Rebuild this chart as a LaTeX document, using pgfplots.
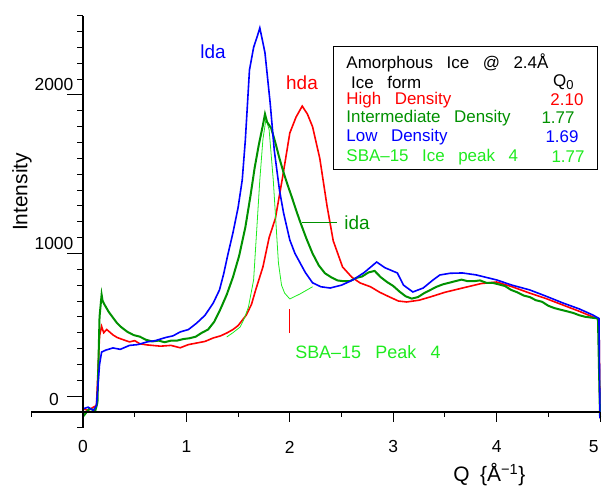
\documentclass[border=0pt]{standalone}
\usepackage{fontspec}
\setmainfont{Liberation Sans}
\usepackage{pgfplots}
\pgfplotsset{compat=1.18}
\definecolor{hdared}{RGB}{255,0,0}
\definecolor{idagreen}{RGB}{0,145,0}
\definecolor{ldablue}{RGB}{0,0,255}
\definecolor{sbagreen}{RGB}{30,235,30}
% font size with the wide word spacing of the original
\newcommand{\fs}[1]{\fontsize{#1}{#1}\selectfont\spaceskip=0.8em\relax}

\begin{document}
\begin{tikzpicture}
\begin{axis}[
    x=103.4bp, y=0.1585bp,
    xmin=-0.5, xmax=5, ymin=-100, ymax=2500,
    hide axis, clip=false,
]
% hda
\addplot[hdared, line width=1.6bp] coordinates {
    (0.00,20)(0.05,10)(0.10,30)(0.13,40)(0.16,480)(0.18,540)(0.20,500)(0.23,520)
    (0.29,486)(0.33,470)(0.37,460)(0.45,442)(0.50,450)(0.55,430)(0.62,423)(0.75,415)
    (0.85,420)(0.94,405)(1.02,425)(1.10,435)(1.18,445)(1.26,467)(1.33,480)(1.39,498)
    (1.45,520)(1.50,545)(1.58,612)(1.63,680)(1.67,770)(1.74,915)
    (1.80,1100)(1.86,1220)(1.93,1480)(2.00,1760)(2.06,1860)(2.12,1930)
    (2.17,1880)(2.22,1800)(2.29,1600)(2.36,1300)(2.42,1080)(2.51,915)
    (2.60,850)(2.68,814)(2.78,790)(2.87,755)(2.95,730)(3.05,700)(3.13,694)
    (3.25,705)(3.36,726)(3.50,755)(3.67,782)(3.85,810)(4.00,820)(4.15,790)
    (4.32,750)(4.48,715)(4.64,675)(4.80,635)(4.93,600)(4.99,585)(5.00,-20)
};
% SBA-15 peak 4
\addplot[sbagreen, line width=0.8bp] coordinates {
    (1.39,473)(1.45,500)(1.52,536)(1.56,590)(1.60,662)(1.65,833)(1.68,1148)
    (1.71,1464)(1.74,1720)(1.77,1850)(1.80,1780)(1.84,1464)(1.86,1255)
    (1.89,940)(1.92,800)(1.95,750)(2.00,713)(2.10,745)(2.22,790)
};
% ida
\addplot[idagreen, line width=2bp] coordinates {
    (0.00,-30)(0.06,20)(0.12,10)(0.14,60)(0.16,600)(0.18,740)(0.19,700)(0.21,675)
    (0.25,630)(0.29,595)(0.33,560)(0.37,535)(0.43,505)(0.49,485)(0.55,475)(0.61,455)
    (0.67,445)(0.73,450)(0.79,440)(0.85,450)(0.91,450)(0.97,460)(1.03,465)(1.09,475)
    (1.15,500)(1.21,520)(1.27,570)(1.33,650)(1.39,740)(1.45,850)(1.51,985)(1.57,1165)
    (1.62,1365)(1.66,1540)(1.70,1685)(1.74,1810)(1.76,1880)(1.78,1830)(1.82,1790)
    (1.86,1700)(1.90,1600)(1.94,1510)(1.98,1430)(2.02,1355)(2.06,1275)(2.10,1200)
    (2.16,1095)(2.22,1000)(2.28,925)(2.34,875)(2.40,850)(2.46,830)(2.52,825)(2.58,825)
    (2.64,845)(2.70,855)(2.76,880)(2.82,890)(2.88,850)(2.94,820)(3.00,795)(3.06,760)
    (3.12,730)(3.18,715)(3.24,725)(3.30,750)(3.36,770)(3.42,790)(3.48,805)(3.54,815)
    (3.60,825)(3.66,835)(3.72,825)(3.78,825)(3.84,830)(3.90,815)(3.96,815)(4.02,805)
    (4.08,795)(4.14,770)(4.20,755)(4.26,735)(4.32,725)(4.38,705)(4.44,695)(4.50,670)
    (4.56,655)(4.62,645)(4.68,635)(4.74,625)(4.80,610)(4.86,600)(4.92,595)(4.98,590)
    (5.00,-30)
};
% lda
\addplot[ldablue, line width=1.6bp] coordinates {
    (0.00,20)(0.05,30)(0.10,10)(0.13,40)(0.16,300)(0.18,378)(0.22,390)(0.29,404)
    (0.36,395)(0.45,420)(0.53,425)(0.62,442)(0.70,450)(0.80,470)(0.87,480)(0.94,505)
    (1.02,520)(1.10,561)(1.18,610)(1.26,688)(1.32,770)(1.36,870)(1.40,990)
    (1.45,1130)(1.50,1290)(1.54,1464)(1.57,1716)(1.61,2158)
    (1.65,2300)(1.69,2380)(1.71,2423)(1.74,2330)(1.76,2265)(1.81,1950)
    (1.85,1650)(1.90,1400)(1.94,1255)(2.00,1085)(2.05,1000)(2.10,940)
    (2.15,880)(2.22,815)(2.30,790)(2.39,782)(2.50,800)(2.61,833)(2.72,880)
    (2.84,946)(2.92,910)(3.04,877)(3.10,800)(3.19,757)(3.29,782)(3.38,830)
    (3.45,864)(3.55,875)(3.67,877)(3.80,865)(4.00,833)(4.15,800)(4.32,770)
    (4.48,730)(4.64,688)(4.80,650)(4.93,612)(4.99,590)(5.00,-40)
};

% axis lines
\draw[line width=1.2bp] (axis cs:-0.5,0) -- (axis cs:5,0);
\draw[line width=1.2bp] (axis cs:0,-100) -- (axis cs:0,2500);
% x ticks
\pgfplotsinvokeforeach{-0.5,0.5,1.5,2.5,3.5,4.5}{
    \draw[line width=1bp] (axis cs:#1,0) -- ([yshift=-5bp]axis cs:#1,0);
}
\pgfplotsinvokeforeach{1,2,3,4,5}{
    \draw[line width=1bp] (axis cs:#1,0) -- ([yshift=-10bp]axis cs:#1,0);
}
\pgfplotsinvokeforeach{0,1,2,3,4}{
    \node[font=\fs{17.5}] at (axis cs:#1,0) [yshift=-35bp] {#1};
}
\node[font=\fs{17.5}, anchor=east] at (axis cs:5.0193,0) [yshift=-35bp] {5};
% y ticks
\pgfplotsinvokeforeach{-100,200,300,400,500,600,700,800,900,1100,1200,1300,
    1400,1500,1600,1700,1800,1900,2100,2200,2300,2400,2500}{
    \draw[line width=1bp] (axis cs:0,#1) -- ([xshift=-6bp]axis cs:0,#1);
}
\pgfplotsinvokeforeach{100,1000,2000}{
    \draw[line width=1bp] (axis cs:0,#1) -- ([xshift=-16bp]axis cs:0,#1);
}
\node[font=\fs{17.5}] at (axis cs:0,2000) [xshift=-29bp, yshift=10bp] {2000};
\node[font=\fs{17.5}] at (axis cs:0,1000) [xshift=-29bp, yshift=10bp] {1000};
\node[font=\fs{17.5}] at (axis cs:0,0) [xshift=-29bp, yshift=12bp] {0};

% axis labels
\node[font=\fs{21}, rotate=90] at (axis cs:-0.59,1388) {Intensity};
\node[font=\fs{21}] at (axis cs:3.93,-397) {Q\hspace{0.5em}\{Å\textsuperscript{−1}\}};

% annotations
\node[font=\fs{19}, text=ldablue] at (axis cs:1.257,2271) {lda};
\node[font=\fs{19}, text=hdared] at (axis cs:2.118,2076) {hda};
\node[font=\fs{19}, text=idagreen] at (axis cs:2.65,1192) {ida};
\draw[idagreen, line width=0.8bp] (axis cs:2.118,1199) -- (axis cs:2.456,1199);
\draw[hdared, line width=0.8bp] (axis cs:2.0,498) -- (axis cs:2.0,650);
\node[font=\fs{18}, text=sbagreen] at (axis cs:2.756,379) {SBA–15 Peak 4};

% key box
\draw[line width=1bp, fill=white] (axis cs:2.427,1527) rectangle (axis cs:4.971,2309);
\node[font=\fs{17}, anchor=west] at (axis cs:2.514,2202) {Amorphous Ice @ 2.4Å};
\node[font=\fs{17}, anchor=west] at (axis cs:2.56,2082) {Ice form};
\node[font=\fs{17}, anchor=east] at (axis cs:4.778,2082) {Q{\fontsize{13}{13}\selectfont\raisebox{-3bp}{0}}};
\node[font=\fs{17}, anchor=west, text=hdared] at (axis cs:2.514,1968) {High Density};
\node[font=\fs{17}, anchor=east, text=hdared] at (axis cs:4.874,1968) {2.10};
\node[font=\fs{17}, anchor=west, text=idagreen] at (axis cs:2.514,1855) {Intermediate Density};
\node[font=\fs{17}, anchor=east, text=idagreen] at (axis cs:4.787,1855) {1.77};
\node[font=\fs{17}, anchor=west, text=ldablue] at (axis cs:2.514,1735) {Low Density};
\node[font=\fs{17}, anchor=east, text=ldablue] at (axis cs:4.826,1735) {1.69};
\node[font=\fs{17}, anchor=west, text=sbagreen] at (axis cs:2.514,1609) {SBA–15 Ice peak 4};
\node[font=\fs{17}, anchor=east, text=sbagreen] at (axis cs:4.884,1609) {1.77};

% page frame of the original picture
\coordinate (bbsw) at (axis cs:-0.8027,-485.8);
\coordinate (bbne) at (axis cs:5.0193,2599.4);
\end{axis}
\pgfresetboundingbox
\useasboundingbox (bbsw) rectangle (bbne);
\end{tikzpicture}
\end{document}
